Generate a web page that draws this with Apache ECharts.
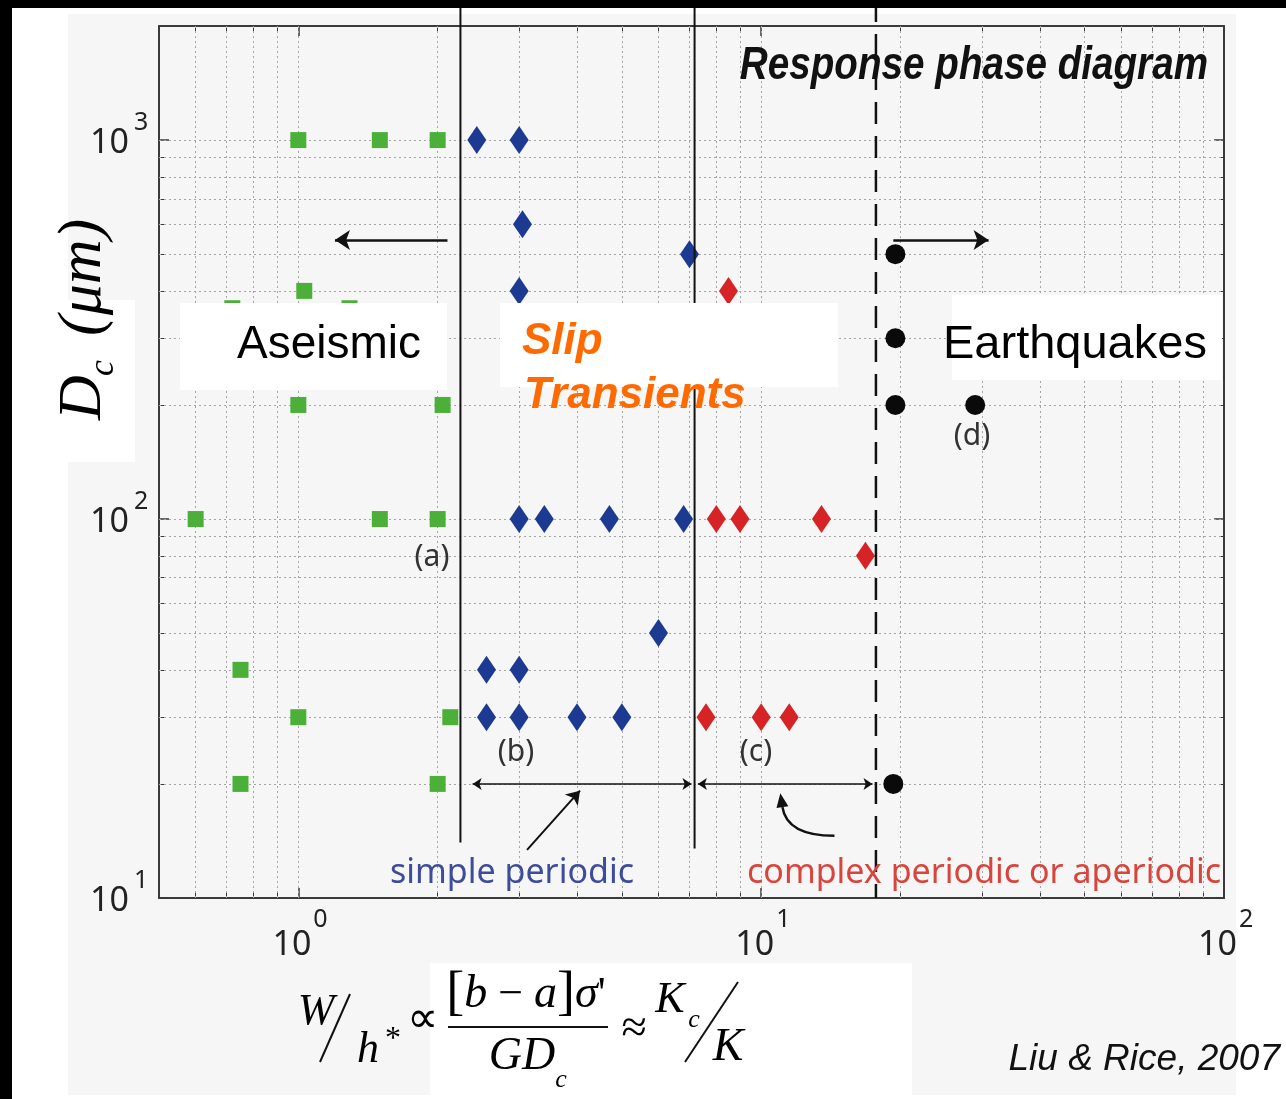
<!DOCTYPE html>
<html><head><meta charset="utf-8">
<script src="https://cdn.jsdelivr.net/npm/echarts@6/dist/echarts.min.js"></script>
<style>html,body{margin:0;padding:0;background:#fff}#c{width:1286px;height:1099px}</style>
</head><body><div id="c"></div>
<script>
// ---------- data ----------
const xMajorTicks = [1, 10, 100];
const yMajorTicks = [10, 100, 1000];
const xMinorTicks = [0.6, 0.7, 0.8, 0.9, 2, 3, 4, 5, 6, 7, 8, 9, 20, 30, 40, 50, 60, 70, 80, 90];
const yMinorTicks = [20, 30, 40, 50, 60, 70, 80, 90, 200, 300, 400, 500, 600, 700, 800, 900, 2000];

const aseismic = [[1,1000],[1.5,1000],[2,1000],[1.03,400],[0.72,360],[1.29,360],[1,200],[2.05,200],
  [0.6,100],[1.5,100],[2,100],[0.75,40],[1,30],[2.13,30],[0.75,20],[2,20]];
const simplePeriodic = [[2.43,1000],[3,1000],[3.05,600],[7,500],[3,400],[3,100],[3.4,100],[4.7,100],[6.8,100],
  [6,50],[2.55,40],[3,40],[2.55,30],[3,30],[4,30],[5,30]];
const complexPeriodic = [[8.5,400],[8,100],[9,100],[13.5,100],[16.8,80],[7.6,30],[10,30],[11.5,30]];
const earthquakes = [[19.5,500],[19.5,300],[19.5,200],[29,200],[19.3,20]];

const boundaryX = [2.24, 7.18, 17.7];
const boundaryLowY = [14, 13.5, 10];

// annotation arrows [from, to] in data units
const arrowLeft = [[2.1,545],[1.2,545]];
const arrowRight = [[19.3,545],[31,545]];
const rangeB = [[2.38,20],[7.07,20]];
const rangeC = [[7.3,20],[17.4,20]];
const pointerSimple = [[3.12,13.4],[4.06,19.2]];
const pointerComplex = [[14.4,14.6],[11.0,18.9]];

// ---------- styling ----------
const MYR = '"Noto Sans", sans-serif';
const SANS = '"Liberation Sans", Arial, sans-serif';
const SERIF = '"Liberation Serif", "Times New Roman", serif';
const AX = '#3a3a3a';

const chart = echarts.init(document.getElementById('c'), null, {width:1286, height:1099});

function logAxis(dim, pos, ticks, major) {
  const isX = dim === 'x';
  return {
    type: 'log', logBase: 10, gridIndex: 0, position: pos,
    min: isX ? 0.5 : 10, max: isX ? 100 : 2000,
    axisLine: {show: major, onZero: false, lineStyle: {color: AX, width: 2}},
    axisTick: {show: true, inside: true, length: major ? 10 : 5, customValues: ticks,
      lineStyle: {color: AX, width: major ? 1.5 : 1}},
    axisLabel: {show: false},
    splitLine: {show: false}, minorTick: {show: false}, minorSplitLine: {show: false}
  };
}

const gridLineData = xMinorTicks.concat([1, 10]).map(v => ({xAxis: v}))
  .concat(yMinorTicks.filter(v => v < 2000).concat([100, 1000]).map(v => ({yAxis: v})));

function arrow(pair, startSym, endSym, size, width) {
  const ls = {color: '#111', width: width, type: 'solid'};
  return [
    {coord: pair[0], symbol: startSym, symbolSize: size, lineStyle: ls},
    {coord: pair[1], symbol: endSym, symbolSize: size, lineStyle: ls}
  ];
}

const option = {
  backgroundColor: '#ffffff',
  animation: false,
  grid: {left: 159, right: 62, top: 26, bottom: 201, containLabel: false},
  xAxis: [
    logAxis('x', 'bottom', xMajorTicks, true),
    logAxis('x', 'bottom', xMinorTicks, false),
    logAxis('x', 'top', xMajorTicks, true),
    logAxis('x', 'top', xMinorTicks, false)
  ],
  yAxis: [
    logAxis('y', 'left', yMajorTicks, true),
    logAxis('y', 'left', yMinorTicks, false),
    logAxis('y', 'right', yMajorTicks, true),
    logAxis('y', 'right', yMinorTicks, false)
  ],
  series: [
    {type: 'scatter', name: 'grid', data: [], z: 1, silent: true,
      markLine: {silent: true, animation: false, symbol: ['none','none'], label: {show: false},
        lineStyle: {color: '#a5a5a5', type: [2,3], width: 1}, data: gridLineData}},
    {type: 'scatter', name: 'Aseismic', data: aseismic, symbol: 'rect', symbolSize: 16,
      itemStyle: {color: '#4caf3a', opacity: 1}, z: 5},
    {type: 'scatter', name: 'simple periodic', data: simplePeriodic, symbol: 'diamond', symbolSize: [19, 28],
      itemStyle: {color: '#1d3a92', opacity: 1}, z: 5},
    {type: 'scatter', name: 'complex periodic', data: complexPeriodic, symbol: 'diamond', symbolSize: [19, 28],
      itemStyle: {color: '#d62326', opacity: 1}, z: 5},
    {type: 'scatter', name: 'Earthquakes', data: earthquakes, symbol: 'circle', symbolSize: 20,
      itemStyle: {color: '#0a0a0a', opacity: 1}, z: 5},
    {type: 'scatter', name: 'arrows', data: [], z: 6, silent: true,
      markLine: {silent: true, animation: false, label: {show: false},
        data: [
          arrow(arrowLeft, 'none', 'arrow', 15, 2.5),
          arrow(arrowRight, 'none', 'arrow', 15, 2.5),
          arrow(rangeB, 'arrow', 'arrow', 9, 1.5),
          arrow(rangeC, 'arrow', 'arrow', 9, 1.5),
          arrow(pointerSimple, 'none', 'arrow', 13, 2)
        ]}}
  ]
};
chart.setOption(option);

// ---------- overlay graphics ----------
function rect(id, x, y, w, h, fill, z) {
  return {type: 'rect', id: id, shape: {x: x, y: y, width: w, height: h}, style: {fill: fill}, z: z, silent: true};
}
function txt(id, x, y, text, st, z, extra) {
  return Object.assign({type: 'text', id: id, x: x, y: y, z: z || 101, silent: true,
    style: Object.assign({text: text, fill: '#000', align: 'left', verticalAlign: 'middle'}, st)}, extra || {});
}
function seg(id, x1, y1, x2, y2, w, z, dash) {
  return {type: 'line', id: id, shape: {x1: x1, y1: y1, x2: x2, y2: y2}, z: z || 101, silent: true,
    style: {stroke: '#111', lineWidth: w, lineDash: dash || null}};
}

const els = [
  rect('panel', 68, 14, 1168, 1081, '#f6f6f6', -10),
  rect('topbar', 0, 0, 1286, 8, '#000', 200),
  rect('leftbar', 0, 0, 12, 1099, '#000', 200),
  rect('ylabBox', 68, 300, 67, 162, '#ffffff', 100),
  rect('aseisBox', 180, 303, 267, 87, '#ffffff', 100),
  rect('slipBox', 500, 303, 338, 84, '#ffffff', 100),
  rect('eqBox', 952, 295, 270, 85, '#ffffff', 100),
  rect('formBox', 430, 963, 482, 132, '#ffffff', 100),

  txt('t_resp', 1208, 66, 'Response phase diagram',
    {fontSize: 46, fontFamily: SANS, fontWeight: 'bold', fontStyle: 'italic', align: 'right', fill: '#111'},
    101, {scaleX: 0.84}),
  txt('t_aseis', 237, 345, 'Aseismic', {fontSize: 46, fontFamily: SANS}),
  txt('t_slip', 522, 342, 'Slip', {fontSize: 44, fontFamily: SANS, fontWeight: 'bold', fontStyle: 'italic', fill: '#ff6a00'}),
  txt('t_trans', 524, 396, 'Transients', {fontSize: 44, fontFamily: SANS, fontWeight: 'bold', fontStyle: 'italic', fill: '#ff6a00'}),
  txt('t_eq', 943, 345, 'Earthquakes', {fontSize: 47, fontFamily: SANS}),
  txt('t_a', 432, 557, '(a)', {fontSize: 30, fontFamily: MYR, fill: '#333', align: 'center'}),
  txt('t_b', 516, 752, '(b)', {fontSize: 30, fontFamily: MYR, fill: '#333', align: 'center'}),
  txt('t_c', 756, 752, '(c)', {fontSize: 30, fontFamily: MYR, fill: '#333', align: 'center'}),
  txt('t_d', 972, 436, '(d)', {fontSize: 30, fontFamily: MYR, fill: '#333', align: 'center'}),
  txt('t_simple', 512, 873, 'simple periodic', {fontSize: 34, fontFamily: MYR, fill: '#3e4c9c', align: 'center'}),
  txt('t_complex', 984, 873, 'complex periodic or aperiodic', {fontSize: 34, fontFamily: MYR, fill: '#d8453c', align: 'center'}),
  txt('t_cite', 1280, 1060, 'Liu & Rice, 2007', {fontSize: 37, fontFamily: SANS, fontStyle: 'italic', align: 'right', fill: '#111'}),

  // y axis title (rotated)
  {type: 'group', id: 'ytitle', x: 84, y: 420, rotation: Math.PI / 2, z: 101, silent: true,
    children: [
      {type: 'text', x: 0, y: 0, z: 101, style: {text: 'D', fontSize: 62, fontFamily: SERIF, fontStyle: 'italic', fill: '#000', verticalAlign: 'middle'}},
      {type: 'text', x: 44, y: 20, z: 101, style: {text: 'c', fontSize: 36, fontFamily: SERIF, fontStyle: 'italic', fill: '#000', verticalAlign: 'middle'}},
      {type: 'text', x: 84, y: 0, z: 101, style: {text: '(μm)', fontSize: 62, fontFamily: SERIF, fontStyle: 'italic', fill: '#000', verticalAlign: 'middle'}}
    ]},

  // formula
  txt('f_W', 316, 1012, 'W', {fontSize: 44, fontFamily: SERIF, fontStyle: 'italic', align: 'center'}),
  seg('f_sl1', 320, 1062, 350, 994, 2),
  txt('f_h', 368, 1050, 'h', {fontSize: 44, fontFamily: SERIF, fontStyle: 'italic', align: 'center'}),
  txt('f_star', 393, 1040, '*', {fontSize: 32, fontFamily: SERIF, align: 'center'}),
  txt('f_prop', 422, 1020, '∝', {fontSize: 44, fontFamily: SERIF, align: 'center'}),
  {type: 'text', id: 'f_num', x: 526, y: 995, z: 101, silent: true,
    style: {text: '{br|[}{i|b}{o| − }{i|a}{br|]}{i|σ}{o|\'}', align: 'center', verticalAlign: 'middle', fill: '#000',
      rich: {br: {fontSize: 54, fontFamily: SERIF}, i: {fontSize: 46, fontFamily: SERIF, fontStyle: 'italic'},
        o: {fontSize: 44, fontFamily: SERIF}}}},
  seg('f_bar', 448, 1027, 608, 1027, 2),
  txt('f_GD', 522, 1057, 'GD', {fontSize: 46, fontFamily: SERIF, fontStyle: 'italic', align: 'center'}),
  txt('f_c1', 561, 1080, 'c', {fontSize: 26, fontFamily: SERIF, fontStyle: 'italic', align: 'center'}),
  txt('f_approx', 634, 1030, '≈', {fontSize: 46, fontFamily: SERIF, align: 'center'}),
  txt('f_K1', 670, 1000, 'K', {fontSize: 44, fontFamily: SERIF, fontStyle: 'italic', align: 'center'}),
  txt('f_c2', 694, 1020, 'c', {fontSize: 26, fontFamily: SERIF, fontStyle: 'italic', align: 'center'}),
  seg('f_sl2', 685, 1062, 738, 982, 2),
  txt('f_K2', 728, 1048, 'K', {fontSize: 46, fontFamily: SERIF, fontStyle: 'italic', align: 'center'})
];

// tick labels 10^n placed through the axis scales
const tickFont = {fontFamily: MYR, fill: '#222'};
xMajorTicks.forEach(function (v, i) {
  const p = chart.convertToPixel({xAxisIndex: 0}, v);
  const e = Math.round(Math.log10(v));
  els.push(txt('xl_b' + i, p + 13, 945, '10', Object.assign({fontSize: 34, align: 'right'}, tickFont)));
  els.push(txt('xl_s' + i, p + 15, 920, String(e), Object.assign({fontSize: 25, align: 'left'}, tickFont)));
});
yMajorTicks.forEach(function (v, i) {
  const p = chart.convertToPixel({yAxisIndex: 0}, v);
  const e = Math.round(Math.log10(v));
  els.push(txt('yl_b' + i, 129, p + 3, '10', Object.assign({fontSize: 34, align: 'right'}, tickFont)));
  els.push(txt('yl_s' + i, 134, p - 17, String(e), Object.assign({fontSize: 25, align: 'left'}, tickFont)));
});

// regime boundary lines, positioned through the chart's own scales
boundaryX.forEach(function (bx, i) {
  const p = chart.convertToPixel({gridIndex: 0}, [bx, boundaryLowY[i]]);
  const dashed = i === 2;
  els.push(seg('bound' + i, p[0], 0, p[0], p[1], dashed ? 2.5 : 2, 50, dashed ? [22, 12] : null));
});

// curved pointer arrow for "complex periodic or aperiodic"
(function () {
  const s = chart.convertToPixel({gridIndex: 0}, pointerComplex[0]);
  const e = chart.convertToPixel({gridIndex: 0}, pointerComplex[1]);
  const c = [e[0] + 0.12 * (s[0] - e[0]), s[1]];
  const dx = e[0] - c[0], dy = e[1] - c[1], L = Math.hypot(dx, dy);
  const ux = dx / L, uy = dy / L, px = -uy, py = ux;
  const hl = 14, hw = 6;
  const b = [e[0] - ux * hl, e[1] - uy * hl];
  els.push({type: 'bezierCurve', id: 'curveArrow', z: 101, silent: true,
    shape: {x1: s[0], y1: s[1], x2: b[0], y2: b[1], cpx1: c[0], cpy1: c[1]},
    style: {stroke: '#111', lineWidth: 2.5, fill: null}});
  els.push({type: 'polygon', id: 'curveHead', z: 101, silent: true,
    shape: {points: [[e[0], e[1]], [b[0] + px * hw, b[1] + py * hw], [b[0] - px * hw, b[1] - py * hw]]},
    style: {fill: '#111'}});
})();

chart.setOption({graphic: {elements: els}});
</script></body></html>
